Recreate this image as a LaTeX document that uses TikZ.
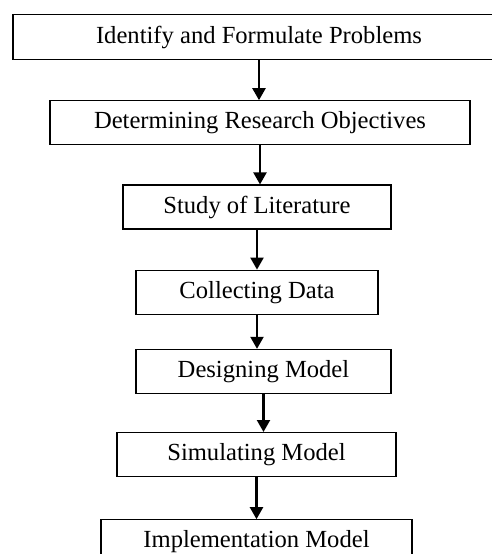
\documentclass[tikz,border=0pt]{standalone}
\usepackage{fontspec}
\setmainfont{Liberation Serif}
\usetikzlibrary{positioning, arrows.meta}
\tikzset{
  stepbox/.style={
    rectangle, draw=black, line width=0.6pt,
    text centered, inner sep=0pt,
    minimum height=22pt,
    font=\fontsize{12.3}{14}\selectfont
  },
  arrow/.style={line width=1.1pt, -{Triangle[length=6pt, width=6.5pt]}}
}

\begin{document}
\begin{tikzpicture}

\useasboundingbox (0,0) rectangle (246pt,-277pt);

% ==============================================================================
% Steps
% ==============================================================================
\node[stepbox, anchor=north, minimum width=246pt, minimum height=22.5pt] (problems) at (129.5pt,-7pt) {
  Identify and Formulate Problems
};

\node[stepbox, minimum width=210pt, below=20pt of problems, xshift=0.5pt] (objectives) {
  Determining Research Objectives
};

\node[stepbox, minimum width=134pt, below=19.5pt of objectives, xshift=-1.5pt] (literature) {
  Study of Literature
};

\node[stepbox, minimum width=121pt, below=20pt of literature] (data) {
  Collecting Data
};

\node[stepbox, minimum width=127.5pt, below=17pt of data, xshift=3.25pt] (design) {
  Designing Model
};

\node[stepbox, minimum width=139.5pt, below=19pt of design, xshift=-3.5pt] (simulate) {
  Simulating Model
};

\node[stepbox, minimum width=155.5pt, below=21pt of simulate] (implement) {
  Implementation Model
};

% ==============================================================================
% Arrows
% ==============================================================================
\draw[arrow] (problems.south) -- (problems.south |- objectives.north);
\draw[arrow] (objectives.south) -- (objectives.south |- literature.north);
\draw[arrow] (literature.south) -- (literature.south |- data.north);
\draw[arrow] (data.south) -- (data.south |- design.north);
\draw[arrow] (design.south) -- (design.south |- simulate.north);
\draw[arrow] (simulate.south) -- (simulate.south |- implement.north);

\end{tikzpicture}
\end{document}
